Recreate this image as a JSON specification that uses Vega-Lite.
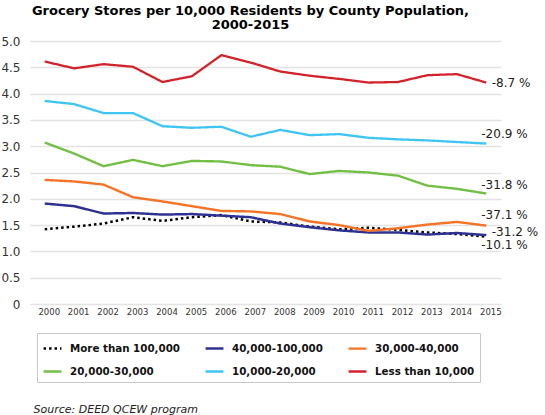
{
  "$schema": "https://vega.github.io/schema/vega-lite/v6.json",
  "width": 471,
  "height": 263,
  "autosize": {"type": "none"},
  "padding": {"left": 30, "top": 41, "right": 44, "bottom": 111},
  "background": "white",
  "config": {
    "font": "DejaVu Sans",
    "view": {"stroke": null},
    "title": {"font": "DejaVu Sans", "fontSize": 13, "fontWeight": "bold", "color": "#000000", "lineHeight": 14.5}
  },
  "title": {
    "text": ["Grocery Stores per 10,000 Residents by County Population,", "2000-2015"],
    "anchor": "middle",
    "frame": "group",
    "dx": -15,
    "offset": 3
  },
  "datasets": {
    "series": [
      {"year": 2000, "series": "More than 100,000", "value": 1.42},
      {"year": 2001, "series": "More than 100,000", "value": 1.47},
      {"year": 2002, "series": "More than 100,000", "value": 1.53},
      {"year": 2003, "series": "More than 100,000", "value": 1.65},
      {"year": 2004, "series": "More than 100,000", "value": 1.58},
      {"year": 2005, "series": "More than 100,000", "value": 1.65},
      {"year": 2006, "series": "More than 100,000", "value": 1.69},
      {"year": 2007, "series": "More than 100,000", "value": 1.57},
      {"year": 2008, "series": "More than 100,000", "value": 1.55},
      {"year": 2009, "series": "More than 100,000", "value": 1.47},
      {"year": 2010, "series": "More than 100,000", "value": 1.42},
      {"year": 2011, "series": "More than 100,000", "value": 1.45},
      {"year": 2012, "series": "More than 100,000", "value": 1.41},
      {"year": 2013, "series": "More than 100,000", "value": 1.36},
      {"year": 2014, "series": "More than 100,000", "value": 1.33},
      {"year": 2015, "series": "More than 100,000", "value": 1.28},
      {"year": 2000, "series": "40,000-100,000", "value": 1.91},
      {"year": 2001, "series": "40,000-100,000", "value": 1.86},
      {"year": 2002, "series": "40,000-100,000", "value": 1.72},
      {"year": 2003, "series": "40,000-100,000", "value": 1.73},
      {"year": 2004, "series": "40,000-100,000", "value": 1.70},
      {"year": 2005, "series": "40,000-100,000", "value": 1.71},
      {"year": 2006, "series": "40,000-100,000", "value": 1.68},
      {"year": 2007, "series": "40,000-100,000", "value": 1.65},
      {"year": 2008, "series": "40,000-100,000", "value": 1.53},
      {"year": 2009, "series": "40,000-100,000", "value": 1.46},
      {"year": 2010, "series": "40,000-100,000", "value": 1.40},
      {"year": 2011, "series": "40,000-100,000", "value": 1.36},
      {"year": 2012, "series": "40,000-100,000", "value": 1.36},
      {"year": 2013, "series": "40,000-100,000", "value": 1.32},
      {"year": 2014, "series": "40,000-100,000", "value": 1.35},
      {"year": 2015, "series": "40,000-100,000", "value": 1.31},
      {"year": 2000, "series": "30,000-40,000", "value": 2.36},
      {"year": 2001, "series": "30,000-40,000", "value": 2.33},
      {"year": 2002, "series": "30,000-40,000", "value": 2.27},
      {"year": 2003, "series": "30,000-40,000", "value": 2.03},
      {"year": 2004, "series": "30,000-40,000", "value": 1.95},
      {"year": 2005, "series": "30,000-40,000", "value": 1.86},
      {"year": 2006, "series": "30,000-40,000", "value": 1.77},
      {"year": 2007, "series": "30,000-40,000", "value": 1.76},
      {"year": 2008, "series": "30,000-40,000", "value": 1.71},
      {"year": 2009, "series": "30,000-40,000", "value": 1.57},
      {"year": 2010, "series": "30,000-40,000", "value": 1.50},
      {"year": 2011, "series": "30,000-40,000", "value": 1.39},
      {"year": 2012, "series": "30,000-40,000", "value": 1.44},
      {"year": 2013, "series": "30,000-40,000", "value": 1.51},
      {"year": 2014, "series": "30,000-40,000", "value": 1.56},
      {"year": 2015, "series": "30,000-40,000", "value": 1.49},
      {"year": 2000, "series": "20,000-30,000", "value": 3.07},
      {"year": 2001, "series": "20,000-30,000", "value": 2.86},
      {"year": 2002, "series": "20,000-30,000", "value": 2.62},
      {"year": 2003, "series": "20,000-30,000", "value": 2.74},
      {"year": 2004, "series": "20,000-30,000", "value": 2.62},
      {"year": 2005, "series": "20,000-30,000", "value": 2.72},
      {"year": 2006, "series": "20,000-30,000", "value": 2.71},
      {"year": 2007, "series": "20,000-30,000", "value": 2.64},
      {"year": 2008, "series": "20,000-30,000", "value": 2.61},
      {"year": 2009, "series": "20,000-30,000", "value": 2.47},
      {"year": 2010, "series": "20,000-30,000", "value": 2.53},
      {"year": 2011, "series": "20,000-30,000", "value": 2.50},
      {"year": 2012, "series": "20,000-30,000", "value": 2.44},
      {"year": 2013, "series": "20,000-30,000", "value": 2.25},
      {"year": 2014, "series": "20,000-30,000", "value": 2.19},
      {"year": 2015, "series": "20,000-30,000", "value": 2.10},
      {"year": 2000, "series": "10,000-20,000", "value": 3.86},
      {"year": 2001, "series": "10,000-20,000", "value": 3.80},
      {"year": 2002, "series": "10,000-20,000", "value": 3.63},
      {"year": 2003, "series": "10,000-20,000", "value": 3.63},
      {"year": 2004, "series": "10,000-20,000", "value": 3.38},
      {"year": 2005, "series": "10,000-20,000", "value": 3.35},
      {"year": 2006, "series": "10,000-20,000", "value": 3.37},
      {"year": 2007, "series": "10,000-20,000", "value": 3.18},
      {"year": 2008, "series": "10,000-20,000", "value": 3.31},
      {"year": 2009, "series": "10,000-20,000", "value": 3.21},
      {"year": 2010, "series": "10,000-20,000", "value": 3.23},
      {"year": 2011, "series": "10,000-20,000", "value": 3.16},
      {"year": 2012, "series": "10,000-20,000", "value": 3.13},
      {"year": 2013, "series": "10,000-20,000", "value": 3.11},
      {"year": 2014, "series": "10,000-20,000", "value": 3.08},
      {"year": 2015, "series": "10,000-20,000", "value": 3.05},
      {"year": 2000, "series": "Less than 10,000", "value": 4.61},
      {"year": 2001, "series": "Less than 10,000", "value": 4.48},
      {"year": 2002, "series": "Less than 10,000", "value": 4.56},
      {"year": 2003, "series": "Less than 10,000", "value": 4.51},
      {"year": 2004, "series": "Less than 10,000", "value": 4.22},
      {"year": 2005, "series": "Less than 10,000", "value": 4.33},
      {"year": 2006, "series": "Less than 10,000", "value": 4.73},
      {"year": 2007, "series": "Less than 10,000", "value": 4.59},
      {"year": 2008, "series": "Less than 10,000", "value": 4.42},
      {"year": 2009, "series": "Less than 10,000", "value": 4.34},
      {"year": 2010, "series": "Less than 10,000", "value": 4.28},
      {"year": 2011, "series": "Less than 10,000", "value": 4.21},
      {"year": 2012, "series": "Less than 10,000", "value": 4.22},
      {"year": 2013, "series": "Less than 10,000", "value": 4.35},
      {"year": 2014, "series": "Less than 10,000", "value": 4.37},
      {"year": 2015, "series": "Less than 10,000", "value": 4.21}
    ],
    "labels": [
      {"year": 2015, "series": "Less than 10,000", "label": "-8.7 %", "side": "right", "value": 4.21},
      {"year": 2015, "series": "10,000-20,000", "label": "-20.9 %", "side": "left", "value": 3.23},
      {"year": 2015, "series": "20,000-30,000", "label": "-31.8 %", "side": "left", "value": 2.26},
      {"year": 2015, "series": "30,000-40,000", "label": "-37.1 %", "side": "left", "value": 1.69},
      {"year": 2015, "series": "40,000-100,000", "label": "-31.2 %", "side": "right", "value": 1.36},
      {"year": 2015, "series": "More than 100,000", "label": "-10.1 %", "side": "left", "value": 1.12}
    ]
  },
  "encoding": {
    "x": {
      "field": "year",
      "type": "ordinal",
      "scale": {"type": "point", "padding": 0.5},
      "axis": {
        "title": "Source: DEED QCEW program",
        "titleFont": "DejaVu Sans",
        "titleFontStyle": "italic",
        "titleFontWeight": "normal",
        "titleFontSize": 11,
        "titleColor": "#222222",
        "titleAnchor": null,
        "titleAlign": "left",
        "titleBaseline": "alphabetic",
        "titleX": 3,
        "titleY": 108,
        "labelAngle": 0,
        "labelFontSize": 8.5,
        "labelColor": "#333333",
        "labelOffset": 4,
        "labelPadding": 3,
        "ticks": false,
        "domain": false,
        "grid": false
      }
    },
    "y": {
      "field": "value",
      "type": "quantitative",
      "scale": {"domain": [0, 5], "nice": false},
      "axis": {
        "title": null,
        "values": [0, 0.5, 1, 1.5, 2, 2.5, 3, 3.5, 4, 4.5, 5],
        "labelExpr": "datum.value == 0 ? '0' : format(datum.value, '.1f')",
        "labelFontSize": 12,
        "labelColor": "#333333",
        "labelPadding": 10,
        "ticks": false,
        "domain": false,
        "grid": true,
        "gridColor": "#e3e3e3",
        "gridWidth": 1.5
      }
    }
  },
  "layer": [
    {
      "data": {"name": "series"},
      "mark": {"type": "line", "strokeCap": "butt", "strokeJoin": "round"},
      "encoding": {
        "color": {
          "field": "series",
          "type": "nominal",
          "sort": ["More than 100,000", "40,000-100,000", "30,000-40,000", "20,000-30,000", "10,000-20,000", "Less than 10,000"],
          "scale": {
            "domain": ["More than 100,000", "40,000-100,000", "30,000-40,000", "20,000-30,000", "10,000-20,000", "Less than 10,000"],
            "range": ["#000000", "#2e3192", "#f47327", "#72bf44", "#3fc5f3", "#d2222a"]
          },
          "legend": {
            "title": null,
            "orient": "none",
            "legendX": 7,
            "legendY": 292,
            "direction": "horizontal",
            "columns": 3,
            "gridAlign": "each",
            "columnPadding": 20,
            "rowPadding": 7,
            "padding": 5,
            "strokeColor": "#c8c8c8",
            "fillColor": "white",
            "symbolType": "stroke",
            "symbolSize": 320,
            "symbolStrokeWidth": 4,
            "labelFont": "DejaVu Sans",
            "labelFontWeight": "bold",
            "labelFontSize": 10.3,
            "labelColor": "#111111",
            "labelOffset": 7,
            "labelLimit": 300
          }
        },
        "strokeDash": {
          "field": "series",
          "type": "nominal",
          "sort": ["More than 100,000", "40,000-100,000", "30,000-40,000", "20,000-30,000", "10,000-20,000", "Less than 10,000"],
          "scale": {
            "domain": ["More than 100,000", "40,000-100,000", "30,000-40,000", "20,000-30,000", "10,000-20,000", "Less than 10,000"],
            "range": [[2.5, 3], [1, 0], [1, 0], [1, 0], [1, 0], [1, 0]]
          }
        },
        "strokeWidth": {
          "field": "series",
          "type": "nominal",
          "scale": {
            "domain": ["More than 100,000", "40,000-100,000", "30,000-40,000", "20,000-30,000", "10,000-20,000", "Less than 10,000"],
            "range": [2.5, 2.3, 2.3, 3.3, 1.8, 2]
          },
          "legend": null
        }
      }
    },
    {
      "data": {"name": "labels"},
      "transform": [{"filter": "datum.side == 'right'"}],
      "mark": {"type": "text", "align": "left", "baseline": "middle", "dx": 5.5, "fontSize": 12, "font": "DejaVu Sans", "color": "#222222"},
      "encoding": {"text": {"field": "label"}}
    },
    {
      "data": {"name": "labels"},
      "transform": [{"filter": "datum.side == 'left'"}],
      "mark": {"type": "text", "align": "left", "baseline": "middle", "dx": -5, "fontSize": 12, "font": "DejaVu Sans", "color": "#222222"},
      "encoding": {"text": {"field": "label"}}
    }
  ]
}
